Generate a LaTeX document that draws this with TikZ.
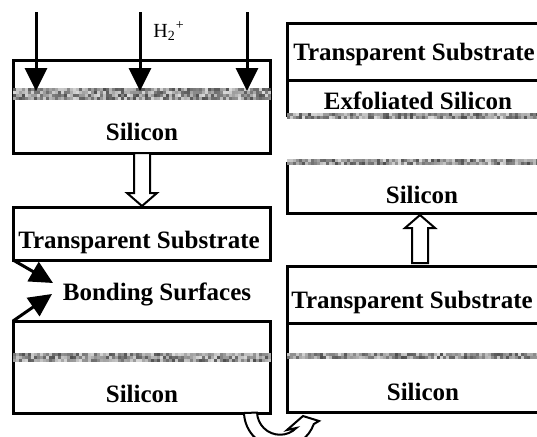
\documentclass[tikz,border=0pt]{standalone}
\usepackage{fontspec}
\setmainfont{Liberation Serif}
\usetikzlibrary{arrows.meta}
\newcommand*{\NoiseBand}[4]{% #1 = left x, #2 = top y, #3 = width, #4 = rows
  \pgfmathtruncatemacro{\ncol}{#3/3}
  \foreach \iy in {1,...,#4} {
    \foreach \ix in {1,...,\ncol} {
      \pgfmathtruncatemacro{\shade}{15+55*rnd}
      \fill [black!\shade] ({#1+3*(\ix-1)},{#2+3*(\iy-1)}) rectangle +(3,3);
    }
  }%
}
\newcommand*{\HollowArrow}[3]{% #1 = x, #2 = y of tail, #3 = y of tip
  \pgfmathsetmacro{\hy}{#3+13*sign(#2-#3)}
  \draw [hollow] (#1-8,#2) -- (#1-8,\hy) -- (#1-15,\hy) -- (#1,#3)
    -- (#1+15,\hy) -- (#1+8,\hy) -- (#1+8,#2) -- cycle;
}

\begin{document}
\begin{tikzpicture}[x=0.5pt, y=-0.5pt,
    box/.style={line width=1.5pt},
    lbl/.style={anchor=base, inner sep=0pt, font=\fontsize{12.5}{15}\selectfont\bfseries},
    ion/.style={line width=1.5pt, -{Triangle[width=11pt, length=11.5pt]}},
    hollow/.style={line width=1pt, fill=white, line join=miter}]
  \clip (0,0) rectangle (537,436);
  \pgfmathsetseed{7}
  % left column
  \draw [box] (13,60) rectangle (270,153);
  \draw [box] (13,207) rectangle (270,260);
  \draw [box] (13,321) rectangle (270,413);
  \NoiseBand{13}{88}{258}{4}
  \NoiseBand{13}{353}{258}{3}
  % right column
  \draw [box] (545,23) -- (287,23) -- (287,117);
  \draw [box] (287,80) -- (545,80);
  \draw [box] (287,162) -- (287,213) -- (545,213);
  \draw [box] (545,266) -- (287,266) -- (287,412) -- (545,412);
  \draw [box] (287,323) -- (545,323);
  \NoiseBand{287}{113}{252}{2}
  \NoiseBand{287}{159}{252}{2}
  \NoiseBand{287}{353}{252}{2}
  % labels
  \node [lbl] (siA) at (142,140) {Silicon};
  \node [lbl] (tsA) at (139,248) {Transparent Substrate};
  \node [lbl] (bond) at (157,300) {Bonding Surfaces};
  \node [lbl] (siB) at (142,402) {Silicon};
  \node [lbl] (tsB) at (414,60) {Transparent Substrate};
  \node [lbl] (exfol) at (418,109) {Exfoliated Silicon};
  \node [lbl] (siC) at (422,203) {Silicon};
  \node [lbl] (tsC) at (412,308) {Transparent Substrate};
  \node [lbl] (siD) at (423,400) {Silicon};
  \node [anchor=base west, inner sep=0pt, font=\fontsize{10}{12}\selectfont]
    (ionlbl) at (153,37) {H\textsubscript{2}\textsuperscript{+}};
  % implant arrows
  \foreach \x [count=\i] in {36,140,247} {
    \coordinate (in\i) at (\x,12);
    \coordinate (out\i) at (\x,91);
    \draw [ion] (in\i) -- (out\i);
  }
  % bonding surfaces
  \coordinate (cornerA) at (13,260);
  \coordinate (cornerB) at (13,321);
  \coordinate (tipA) at (53,283);
  \coordinate (tipB) at (52,294);
  \draw [ion] (cornerA) -- (tipA);
  \draw [ion] (cornerB) -- (tipB);
  % process arrows
  \HollowArrow{142}{153}{206}
  \HollowArrow{420}{263}{215}
  \draw [hollow] (244,413) arc [start angle=178, end angle=20, radius=36]
    -- (319,421) -- (303,416) -- (287,430) -- (296.3,428)
    arc [start angle=45, end angle=178, radius=23] -- cycle;
\end{tikzpicture}
\end{document}
